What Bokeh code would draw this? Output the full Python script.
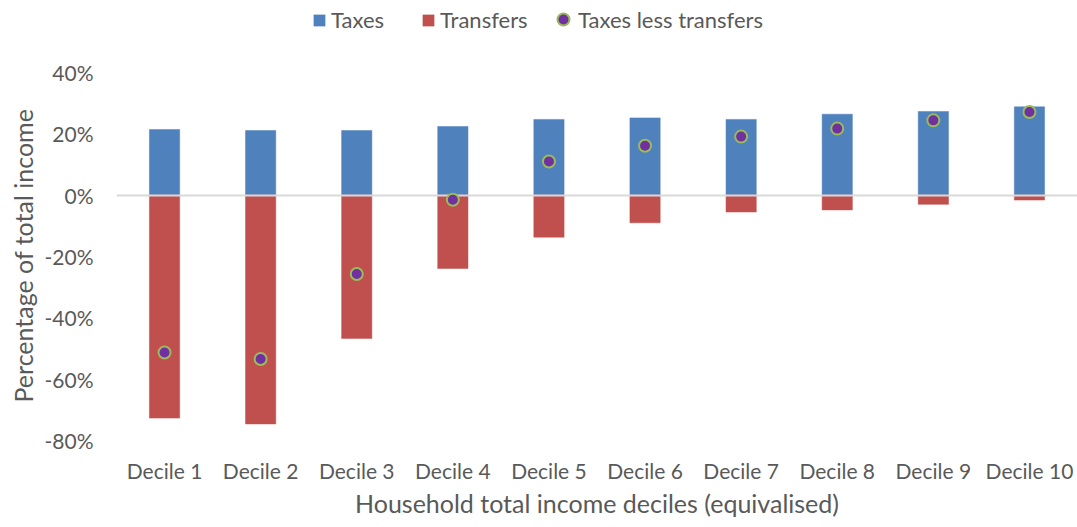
from bokeh.plotting import figure
from bokeh.models import (ColumnDataSource, FixedTicker, PrintfTickFormatter,
                          Legend, LegendItem, FactorRange, Title)
from bokeh.embed import file_html
from bokeh.resources import INLINE

deciles = ["Decile 1", "Decile 2", "Decile 3", "Decile 4", "Decile 5",
           "Decile 6", "Decile 7", "Decile 8", "Decile 9", "Decile 10"]
taxes = [21.4, 21.1, 21.1, 22.4, 24.7, 25.2, 24.7, 26.4, 27.3, 28.8]
transfers = [-72.7, -74.6, -46.7, -23.9, -13.7, -9.0, -5.5, -4.8, -3.0, -1.6]
net = [-51.3, -53.4, -25.7, -1.5, 11.0, 16.1, 19.1, 21.7, 24.4, 27.1]
y_ticks = [-80, -60, -40, -20, 0, 20, 40]

FONT = "Lato"
TXT = "#595959"
C_TAX = "#4F81BD"
C_TR = "#C0504D"
C_NET = "#7030A0"
C_NET_EDGE = "#9BBB59"

# layout: data area 368 px tall, with a 72 px legend strip on top of it (inside the frame)
Y_MIN, Y_MAX = -80, 40
DATA_H, STRIP_H, BOTTOM = 368, 72, 87
y_top = Y_MAX + (Y_MAX - Y_MIN) * STRIP_H / DATA_H

src = ColumnDataSource(dict(x=deciles, taxes=taxes, transfers=transfers, net=net,
                            zero=[0] * len(deciles)))

p = figure(x_range=FactorRange(*deciles), y_range=(Y_MIN, y_top),
           width=1077, height=DATA_H + STRIP_H + BOTTOM,
           min_border_left=116, min_border_right=0, min_border_top=0,
           min_border_bottom=BOTTOM,
           output_backend="svg", toolbar_location=None)

r_tax = p.vbar(x="x", top="taxes", bottom="zero", width=0.315, source=src,
               fill_color=C_TAX, line_color=C_TAX, line_width=0.5)
r_tr = p.vbar(x="x", top="zero", bottom="transfers", width=0.315, source=src,
              fill_color=C_TR, line_color=C_TR, line_width=0.5)
p.hspan(y=[0], line_color="#D9D9D9", line_width=2)
r_net = p.scatter(x="x", y="net", source=src, size=12, fill_color=C_NET,
                  line_color=C_NET_EDGE, line_width=2)

p.xgrid.visible = False
p.ygrid.visible = False
p.outline_line_color = None

p.yaxis.ticker = FixedTicker(ticks=y_ticks)
p.yaxis.formatter = PrintfTickFormatter(format="%d%%")
p.yaxis.major_label_standoff = 23
p.xaxis.major_label_standoff = 17

for ax in (p.xaxis[0], p.yaxis[0]):
    ax.axis_line_color = None
    ax.major_tick_line_color = None
    ax.minor_tick_line_color = None
    ax.major_tick_out = 0
    ax.major_tick_in = 0
    ax.minor_tick_out = 0
    ax.minor_tick_in = 0
    ax.major_label_text_font = FONT
    ax.major_label_text_font_size = "21px"
    ax.major_label_text_color = TXT

xtitle = Title(text="Household total income deciles (equivalised)", align="center",
               standoff=4, vertical_align="top", text_font=FONT, text_font_size="25px",
               text_font_style="normal", text_color=TXT)
p.add_layout(xtitle, "below")
ytitle = Title(text="Percentage of total income", align="left", offset=38, standoff=8,
               text_font=FONT, text_font_size="25px", text_font_style="normal",
               text_color=TXT)
p.add_layout(ytitle, "left")

leg1 = Legend(items=[LegendItem(label="Taxes", renderers=[r_tax]),
                     LegendItem(label="Transfers", renderers=[r_tr])],
              location=(196, 407), orientation="horizontal",
              glyph_width=14, glyph_height=14, label_standoff=5, spacing=37,
              padding=0, margin=0, border_line_alpha=0, background_fill_alpha=0,
              label_text_font=FONT, label_text_font_size="22px", label_text_color=TXT)
leg2 = Legend(items=[LegendItem(label="Taxes less transfers", renderers=[r_net])],
              location=(432, 404), orientation="horizontal",
              glyph_width=30, glyph_height=34, label_standoff=0,
              padding=0, margin=0, border_line_alpha=0, background_fill_alpha=0,
              label_text_font=FONT, label_text_font_size="22px", label_text_color=TXT)
p.add_layout(leg1, "center")
p.add_layout(leg2, "center")

open("out.html", "w").write(file_html(p, INLINE))
